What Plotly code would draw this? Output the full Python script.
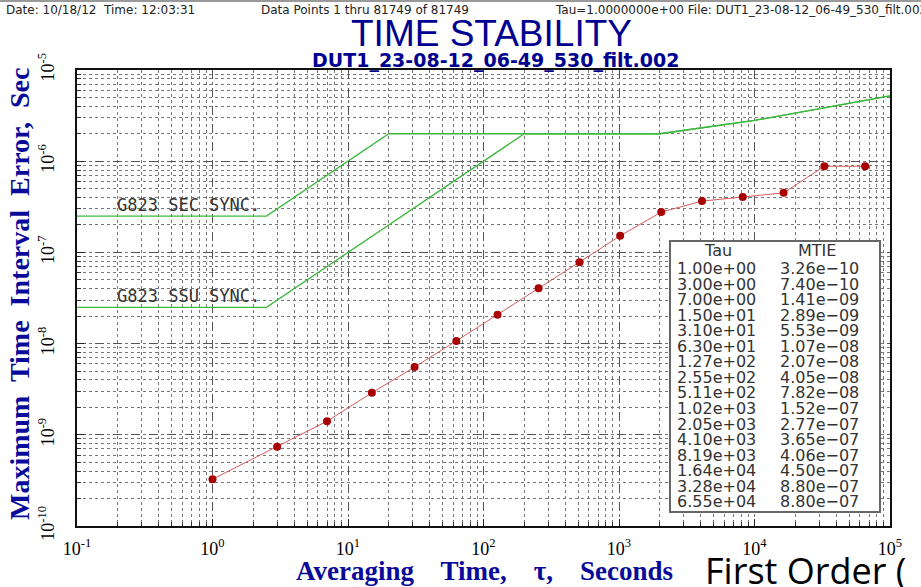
import plotly.graph_objects as go

# ---- data ----
tau = [1.00e+00, 3.00e+00, 7.00e+00, 1.50e+01, 3.10e+01, 6.30e+01, 1.27e+02, 2.55e+02,
       5.11e+02, 1.02e+03, 2.05e+03, 4.10e+03, 8.19e+03, 1.64e+04, 3.28e+04, 6.55e+04]
mtie = [3.26e-10, 7.40e-10, 1.41e-09, 2.89e-09, 5.53e-09, 1.07e-08, 2.07e-08, 4.05e-08,
        7.82e-08, 1.52e-07, 2.77e-07, 3.65e-07, 4.06e-07, 4.50e-07, 8.80e-07, 8.80e-07]

sec_tau = [0.1, 2.5, 20, 2000, 1e4, 1e5]
sec_mtie = [2.5e-7, 2.5e-7, 2e-6, 2e-6, 2.8e-6, 5.2e-6]
ssu_tau = [0.1, 2.5, 200, 2000, 1e4, 1e5]
ssu_mtie = [2.5e-8, 2.5e-8, 2e-6, 2e-6, 2.8e-6, 5.2e-6]

mask_labels = ["G823 SEC SYNC.", "G823 SSU SYNC."]
x_exponents = [-1, 0, 1, 2, 3, 4, 5]
y_exponents = [-10, -9, -8, -7, -6, -5]

# ---- layout geometry (pixels) ----
W, H = 921, 587
L, R, T, B = 77, 890, 70, 526


def px(xp):
    return (xp - L) / (R - L)


def py(yp):
    return (B - yp) / (B - T)


fig = go.Figure()

green = "#3cb83c"
fig.add_trace(go.Scatter(x=ssu_tau, y=ssu_mtie, mode="lines",
                         line=dict(color=green, width=1.3), showlegend=False))
fig.add_trace(go.Scatter(x=sec_tau, y=sec_mtie, mode="lines",
                         line=dict(color=green, width=1.3), showlegend=False))
fig.add_trace(go.Scatter(x=tau, y=mtie, mode="lines",
                         line=dict(color="#d65c5c", width=1), showlegend=False))
fig.add_trace(go.Scatter(x=tau, y=mtie, mode="markers",
                         marker=dict(color="#a80000", size=8), showlegend=False))

serif = "Liberation Serif"
blue = "#0a0a9a"

axis_common = dict(
    type="log", automargin=False,
    showline=True, linecolor="#111", linewidth=2, mirror=True,
    showgrid=True, gridcolor="#555", gridwidth=1, griddash="dash",
    ticks="inside", ticklen=7, tickcolor="#222",
    tickfont=dict(family=serif, size=18, color="#000"),
    minor=dict(dtick="D1", showgrid=True, gridcolor="#777", griddash="dot",
               gridwidth=1, ticks="inside", ticklen=4, tickcolor="#333"),
    zeroline=False,
)

fig.update_xaxes(**axis_common, range=[-1, 5],
                 tickvals=[10.0 ** e for e in x_exponents],
                 ticktext=[f"10<sup>{e}</sup>" for e in x_exponents],
                 ticklabelstandoff=5)
fig.update_yaxes(**axis_common, range=[-10, -5],
                 tickvals=[10.0 ** e for e in y_exponents],
                 ticktext=[f"10<sup>{e}</sup>" for e in y_exponents],
                 tickangle=-90, ticklabelstandoff=14)

anns = []


def add_text(text, x, y, font, xanchor="left", **kw):
    anns.append(dict(text=text, x=px(x), y=py(y), xref="paper", yref="paper",
                     xanchor=xanchor, yanchor="middle", showarrow=False, font=font, **kw))


# header line
hdr_font = dict(family="DejaVu Sans", size=12, color="#222")
add_text("Date: 10/18/12  Time: 12:03:31", 4, 10, hdr_font)
add_text("Data Points 1 thru 81749 of 81749", 259, 10, hdr_font)
add_text("Tau=1.0000000e+00 File: DUT1_23-08-12_06-49_530_filt.002", 553, 10, hdr_font)

# titles
add_text("TIME STABILITY", 491, 34,
         dict(family="Liberation Sans", size=37, color="#000090"), xanchor="center")
add_text("DUT1_23-08-12_06-49_530_filt.002", 495, 60,
         dict(family="DejaVu Sans", size=19, color="#000090", weight="bold"),
         xanchor="center")

# axis titles
add_text("Maximum  Time  Interval  Error,  Sec", 19, 294,
         dict(family=serif, size=28, color=blue, weight="bold"),
         xanchor="center", textangle=-90)
add_text("Averaging    Time,    τ,    Seconds", 484, 571,
         dict(family=serif, size=27, color=blue, weight="bold"), xanchor="center")
add_text("First Order (", 703, 570, dict(family="Open Sans", size=36, color="#000"))

# mask labels
mono = dict(family="DejaVu Sans Mono", size=17, color="#333")
add_text(mask_labels[0], 115, 205, mono)
add_text(mask_labels[1], 115, 296, mono)

# table
tfont = dict(family="DejaVu Sans", size=16, color="#333")
add_text("Tau", 718, 250, tfont, xanchor="center")
add_text("MTIE", 817, 250, tfont, xanchor="center")
row0, dy = 268.5, 15.55
for i, (t, m) in enumerate(zip(tau, mtie)):
    add_text(f"{t:.2e}", 675, row0 + i * dy, tfont)
    add_text(f"{m:.2e}".replace("-", "\u2212"), 778, row0 + i * dy, tfont)

shapes = [
    dict(type="rect", xref="paper", yref="paper", x0=px(670), x1=px(880),
         y0=py(512), y1=py(241), fillcolor="white",
         line=dict(color="#666", width=2), layer="above"),
    dict(type="line", xref="paper", yref="paper", x0=px(0), x1=px(W), y0=py(1), y1=py(1),
         line=dict(color="#777", width=1.5)),
]

fig.update_layout(
    width=W, height=H,
    margin=dict(l=L, r=W - R, t=T, b=H - B),
    paper_bgcolor="white", plot_bgcolor="white",
    annotations=anns, shapes=shapes, showlegend=False,
)

fig.write_html("out.html", config={"displayModeBar": False},
               post_script="document.body.style.margin='0';"
                           "document.body.style.overflow='hidden';")
